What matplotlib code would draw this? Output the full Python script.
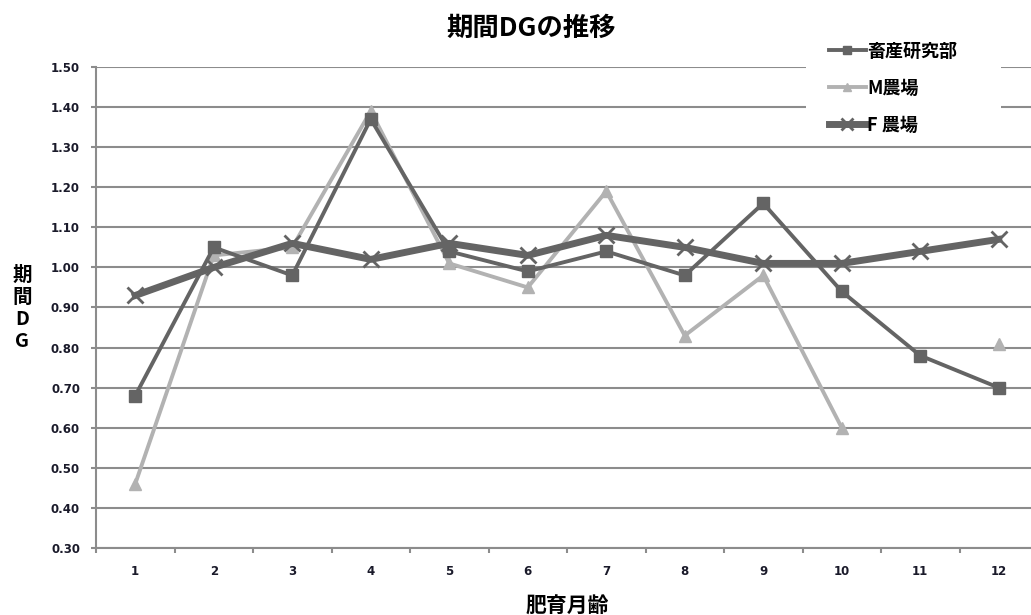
import matplotlib
matplotlib.use("Agg")
import matplotlib.pyplot as plt
from matplotlib.patches import Rectangle
import numpy as np

plt.rcParams['font.family'] = ['Noto Sans CJK JP', 'DejaVu Sans']

# 肥育月齢ごとの期間DG
months = [1, 2, 3, 4, 5, 6, 7, 8, 9, 10, 11, 12]
chikusan = [0.68, 1.05, 0.98, 1.37, 1.04, 0.99, 1.04, 0.98, 1.16, 0.94, 0.78, 0.70]
m_farm = [0.46, 1.03, 1.05, 1.39, 1.01, 0.95, 1.19, 0.83, 0.98, 0.60, np.nan, 0.81]
f_farm = [0.93, 1.00, 1.06, 1.02, 1.06, 1.03, 1.08, 1.05, 1.01, 1.01, 1.04, 1.07]
y_ticks = [0.30, 0.40, 0.50, 0.60, 0.70, 0.80, 0.90, 1.00, 1.10, 1.20, 1.30, 1.40, 1.50]

fig = plt.figure(figsize=(10.31, 6.15), dpi=100)
# plot area runs a little past the right edge of the figure
ax = fig.add_axes([96 / 1031, 67 / 615, 942 / 1031, 481 / 615])

dark = '#646464'
light = '#b2b2b2'

ax.plot(months, chikusan, color=dark, lw=2.8, marker='s', ms=8,
        label='畜産研究部', zorder=3)
ax.plot(months, m_farm, color=light, lw=2.8, marker='^', ms=8,
        label='M農場', zorder=2)
ax.plot(months, f_farm, color=dark, lw=5, marker='x', ms=11, mew=2,
        label='F 農場', zorder=4)

ax.set_xlim(0.5, 12.5)
ax.set_ylim(0.30, 1.50)
ax.set_yticks(y_ticks)
ax.set_yticklabels(['%.2f' % v for v in y_ticks], fontsize=8.5,
                   fontweight='bold', family='DejaVu Sans', color='#1a1a2a')
ax.set_xticks(months)
ax.set_xticklabels([str(m) for m in months], fontsize=8.5,
                   fontweight='bold', family='DejaVu Sans', color='#1a1a2a')
ax.set_xticks(np.arange(0.5, 13, 1), minor=True)
ax.tick_params(axis='x', which='major', length=0, pad=12)
ax.tick_params(axis='x', which='minor', length=3.5, width=1.5, color='#8c8c8c', direction='out')
ax.tick_params(axis='y', length=3.5, width=1.5, color='#8c8c8c', pad=8)

ax.grid(axis='y', color='#8c8c8c', lw=1.5)
ax.set_axisbelow(True)
for s in ['top', 'right']:
    ax.spines[s].set_visible(False)
for s in ['left', 'bottom']:
    ax.spines[s].set_color('#8c8c8c')
    ax.spines[s].set_linewidth(1.5)

fig.text(531 / 1031, 1 - 28 / 615, '期間DGの推移', ha='center', va='center',
         fontsize=19, fontweight='bold')
fig.text(22 / 1031, 1 - 308 / 615, '期\n間\nD\nG', ha='center', va='center',
         fontsize=14, fontweight='bold', linespacing=1.2)
fig.text(567 / 1031, 1 - 606 / 615, '肥育月齢', ha='center', va='center',
         fontsize=15, fontweight='bold')

# white block behind the legend hides the top gridlines
ax.add_patch(Rectangle((806 / 1031, 1 - 140 / 615), 195 / 1031, 105 / 615,
                       transform=fig.transFigure, facecolor='white',
                       edgecolor='none', zorder=1, clip_on=False))

leg = ax.legend(loc='upper left', bbox_to_anchor=(824 / 1031, 1 - 36 / 615),
                bbox_transform=fig.transFigure, frameon=True, fontsize=13,
                handlelength=2.0, handletextpad=0.1, labelspacing=1.0,
                borderpad=0.3, borderaxespad=0, markerscale=0.8)
leg.get_frame().set_edgecolor('none')
leg.get_frame().set_facecolor('white')
leg.get_frame().set_alpha(1)
for t in leg.get_texts():
    t.set_fontweight('bold')

fig.savefig('out.png', dpi=100)
